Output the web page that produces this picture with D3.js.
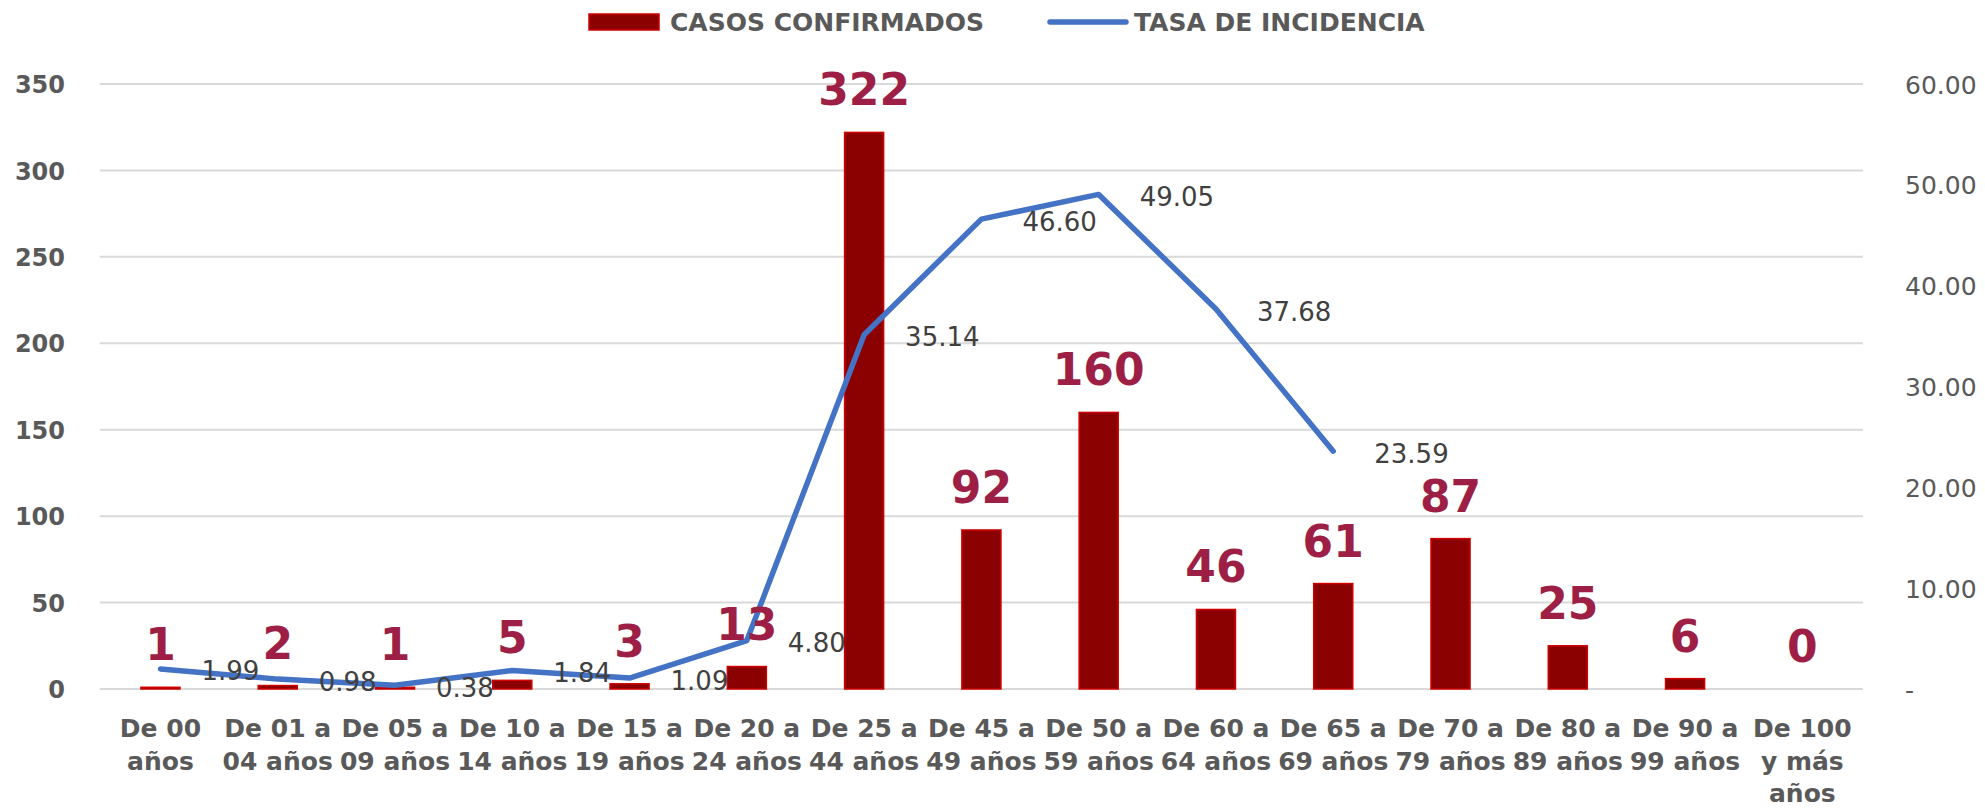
<!DOCTYPE html>
<html>
<head>
<meta charset="utf-8">
<script src="https://cdn.jsdelivr.net/npm/d3@7"></script>
<style>
  body { margin: 0; background: #fff; }
  text { font-family: "DejaVu Sans", sans-serif; }
</style>
</head>
<body>
<div id="chart"></div>
<script>
const width = 1985
const height = 809

// datos
const categorias = ["De 00 años", "De 01 a 04 años", "De 05 a 09 años", "De 10 a 14 años", "De 15 a 19 años",
    "De 20 a 24 años", "De 25 a 44 años", "De 45 a 49 años", "De 50 a 59 años", "De 60 a 64 años",
    "De 65 a 69 años", "De 70 a 79 años", "De 80 a 89 años", "De 90 a 99 años", "De 100 y más años"]
const casos = [1, 2, 1, 5, 3, 13, 322, 92, 160, 46, 61, 87, 25, 6, 0]
const tasa = [1.99, 0.98, 0.38, 1.84, 1.09, 4.80, 35.14, 46.60, 49.05, 37.68, 23.59, null, null, null, null]
const ticksCasos = [0, 50, 100, 150, 200, 250, 300, 350]
const ticksTasa = [0, 10, 20, 30, 40, 50, 60]
const leyenda = ["CASOS CONFIRMADOS", "TASA DE INCIDENCIA"]

const plot = { left: 101.8, right: 1861, top: 84, bottom: 689 }

const svg = d3.select("div#chart")
    .append("svg")
    .attr("width", width)
    .attr("height", height)

svg.append("rect").attr("width", width).attr("height", height).attr("fill", "#fff")

// escalas
const x = d3.scaleBand()
    .domain(categorias)
    .range([plot.left, plot.right])
    .paddingInner(0.667)
    .paddingOuter(0.3335)
const y = d3.scaleLinear().domain([0, 350]).range([plot.bottom, plot.top])
const y2 = d3.scaleLinear().domain([0, 60]).range([plot.bottom, plot.top])
const cx = d => x(d) + x.bandwidth() / 2

// rejilla
svg.append("g").selectAll("line").data(ticksCasos)
    .join("line")
    .attr("x1", plot.left - 2).attr("x2", plot.right + 2)
    .attr("y1", d => y(d)).attr("y2", d => y(d))
    .attr("stroke", "#d9d9d9").attr("stroke-width", 2)

// eje izquierdo
const axisLeft = d3.axisLeft(y).tickValues(ticksCasos).tickSize(0).tickPadding(0)
svg.append("g")
    .attr("transform", "translate(65,0)")
    .call(axisLeft)
    .call(g => g.select(".domain").remove())
    .call(g => g.selectAll("text")
        .attr("font-family", "DejaVu Sans").attr("font-size", 24).attr("font-weight", "bold")
        .attr("fill", "#595959").attr("dy", "0.36em"))

// eje derecho
const axisRight = d3.axisRight(y2).tickValues(ticksTasa).tickSize(0).tickPadding(0)
    .tickFormat(d => d === 0 ? "-" : d3.format(".2f")(d))
svg.append("g")
    .attr("transform", "translate(1905,0)")
    .call(axisRight)
    .call(g => g.select(".domain").remove())
    .call(g => g.selectAll("text")
        .attr("font-family", "DejaVu Sans").attr("font-size", 25)
        .attr("fill", "#595959").attr("dy", "0.36em"))

// eje x
const axisBottom = d3.axisBottom(x).tickSize(0).tickPadding(0)
svg.append("g")
    .attr("transform", `translate(0,${plot.bottom})`)
    .call(axisBottom)
    .call(g => g.select(".domain").remove())
    .call(g => g.selectAll("text")
        .attr("font-family", "DejaVu Sans").attr("font-size", 25).attr("font-weight", "bold")
        .attr("fill", "#595959").attr("y", 0).attr("dy", 0)
        .call(wrap, x.step() - 2))

// barras
svg.append("g").selectAll("rect").data(categorias)
    .join("rect")
    .attr("x", d => x(d))
    .attr("y", (d, i) => y(casos[i]))
    .attr("width", x.bandwidth())
    .attr("height", (d, i) => y(0) - y(casos[i]))
    .attr("fill", "#8b0000")
    .attr("stroke", "#d00000")
    .attr("stroke-width", 1.5)

// linea
const line = d3.line()
    .defined(d => d[1] != null)
    .x(d => cx(d[0]))
    .y(d => y2(d[1]))
const puntos = categorias.map((c, i) => [c, tasa[i]])
svg.append("path")
    .datum(puntos)
    .attr("d", line)
    .attr("fill", "none")
    .attr("stroke", "#4472c4")
    .attr("stroke-width", 5.5)
    .attr("stroke-linecap", "round")
    .attr("stroke-linejoin", "round")

// etiquetas de la linea
svg.append("g").selectAll("text").data(puntos.filter(d => d[1] != null))
    .join("text")
    .attr("x", d => cx(d[0]) + 41)
    .attr("y", d => y2(d[1]) + 11.5)
    .attr("font-size", 26)
    .attr("fill", "#404040")
    .text(d => d3.format(".2f")(d[1]))

// etiquetas de las barras
svg.append("g").selectAll("text").data(categorias)
    .join("text")
    .attr("x", d => cx(d))
    .attr("y", (d, i) => y(casos[i]) - 27)
    .attr("text-anchor", "middle")
    .attr("font-size", 44)
    .attr("font-weight", "bold")
    .attr("fill", "#9e1f45")
    .text((d, i) => casos[i])

// leyenda
const leg = svg.append("g")
leg.append("rect")
    .attr("x", 589).attr("y", 14).attr("width", 70).attr("height", 16)
    .attr("fill", "#8b0000").attr("stroke", "#d00000").attr("stroke-width", 1.5)
leg.append("text")
    .attr("x", 670).attr("y", 30.5)
    .attr("font-size", 25).attr("font-weight", "bold").attr("fill", "#595959")
    .text(leyenda[0])
leg.append("line")
    .attr("x1", 1050).attr("x2", 1126).attr("y1", 22).attr("y2", 22)
    .attr("stroke", "#4472c4").attr("stroke-width", 5.5).attr("stroke-linecap", "round")
leg.append("text")
    .attr("x", 1134).attr("y", 30.5)
    .attr("font-size", 25).attr("font-weight", "bold").attr("fill", "#595959")
    .text(leyenda[1])

// parte las etiquetas en varias lineas
function wrap(texts, maxWidth) {
    texts.each(function () {
        const text = d3.select(this)
        const words = text.text().split(/\s+/)
        text.text(null)
        let lines = []
        let current = []
        const probe = text.append("tspan")
        words.forEach(w => {
            const tryLine = current.concat([w]).join(" ")
            probe.text(tryLine)
            if (probe.node().getComputedTextLength() > maxWidth && current.length) {
                lines.push(current.join(" "))
                current = [w]
            } else {
                current.push(w)
            }
        })
        lines.push(current.join(" "))
        probe.remove()
        lines.forEach((l, i) => {
            text.append("tspan")
                .attr("x", 0)
                .attr("y", 48 + i * 32.5)
                .text(l)
        })
    })
}
</script>
</body>
</html>
